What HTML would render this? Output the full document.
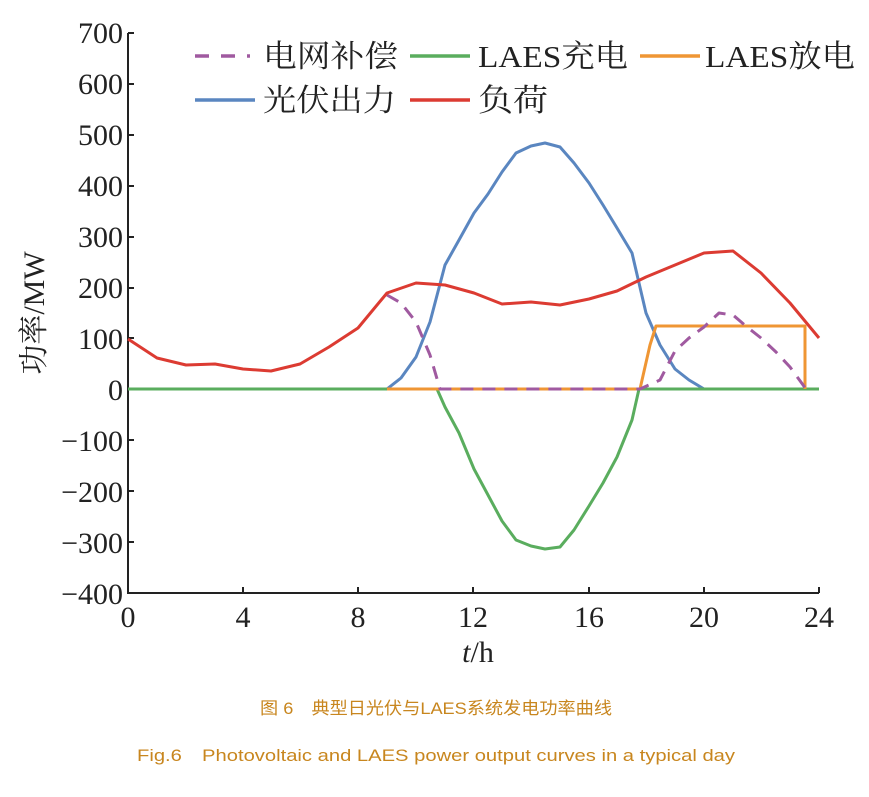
<!DOCTYPE html>
<html><head><meta charset="utf-8"><style>
html,body{margin:0;padding:0;background:#fff;width:869px;height:797px;overflow:hidden}
</style></head><body>
<svg width="869" height="797" xmlns="http://www.w3.org/2000/svg">
<g font-family="Liberation Serif, 'Noto Serif CJK SC', serif" font-size="30" fill="#222">
<g text-anchor="end">
<text x="123" y="43">700</text><text x="123" y="94">600</text><text x="123" y="145">500</text>
<text x="123" y="196">400</text><text x="123" y="247">300</text><text x="123" y="298">200</text>
<text x="123" y="349">100</text><text x="123" y="400">0</text><text x="123" y="451">−100</text>
<text x="123" y="502">−200</text><text x="123" y="553">−300</text><text x="123" y="604">−400</text>
</g>
<g text-anchor="middle">
<text x="128" y="627">0</text><text x="243" y="627">4</text><text x="358" y="627">8</text>
<text x="473" y="627">12</text><text x="589" y="627">16</text><text x="704" y="627">20</text><text x="819" y="627">24</text>
<text x="478" y="662"><tspan font-style="italic">t</tspan>/h</text>
</g>
<text transform="translate(44,313) rotate(-90)" text-anchor="middle" font-size="30">功率/MW</text>
</g>
<g stroke="#222" stroke-width="2" fill="none">
<path d="M128,33V593H819"/>
<path d="M128,33h6M128,84h6M128,135h6M128,186h6M128,237h6M128,288h6M128,338h6M128,389h6M128,440h6M128,491h6M128,542h6"/>
<path d="M243,593v-6M358,593v-6M473,593v-6M589,593v-6M704,593v-6M819,593v-6"/>
</g>
<g fill="none" stroke-width="3" stroke-linejoin="round">
<polyline stroke="#5a86c0" points="128,389 387,389 401,378 416,357 430,322 445,265 459,240 474,213 488,194 502,172 516,153 531,146 545,143 560,147 574,163 589,183 603,205 617,228 632,253 646,313 660,345 675,369 689,380 704,389 819,389"/>
<polyline stroke="#5aad5e" points="128,389 437,389 445,407 459,433 474,469 488,495 502,521 516,540 531,546 545,549 560,547 574,530 589,506 603,483 617,457 632,420 639,389 819,389"/>
<polyline stroke="#ef9634" points="387,389 640,389 650,345 656,326 805,326 805,389"/>
<polyline stroke="#a05aa0" stroke-dasharray="13,9" points="387,295 401,303 416,322 430,355 440,389 640,389 660,380 675,351 689,338 704,327 719,313 733,315 747,327 761,338 776,352 790,367 806,389"/>
<polyline stroke="#dc3b32" points="128,339 157,358 186,365 215,364 243,369 271,371 300,364 329,347 358,328 387,293 416,283 445,285 474,293 502,304 531,302 560,305 589,299 617,291 646,277 675,265 704,253 733,251 761,273 790,303 819,338"/>
</g>
<g stroke-width="3.5">
<line x1="195" y1="56" x2="250" y2="56" stroke="#a05aa0" stroke-dasharray="14,12"/>
<line x1="410" y1="56" x2="470" y2="56" stroke="#5aad5e"/>
<line x1="640" y1="56" x2="700" y2="56" stroke="#ef9634"/>
<line x1="195" y1="100" x2="255" y2="100" stroke="#5a86c0"/>
<line x1="410" y1="100" x2="470" y2="100" stroke="#dc3b32"/>
</g>
<g font-family="Liberation Serif, 'Noto Serif CJK SC', serif" font-size="31" fill="#222">
<text x="263" y="67" textLength="135" lengthAdjust="spacingAndGlyphs">电网补偿</text>
<text x="478" y="67" textLength="150" lengthAdjust="spacingAndGlyphs">LAES充电</text>
<text x="705" y="67" textLength="150" lengthAdjust="spacingAndGlyphs">LAES放电</text>
<text x="263" y="111" textLength="133" lengthAdjust="spacingAndGlyphs">光伏出力</text>
<text x="478" y="111" textLength="70" lengthAdjust="spacingAndGlyphs">负荷</text>
</g>
<g font-family="Liberation Sans, 'Noto Sans CJK SC', sans-serif" font-size="17" fill="#c8861e">
<text x="260" y="714" textLength="352" lengthAdjust="spacingAndGlyphs">图 6　典型日光伏与LAES系统发电功率曲线</text>
<text x="137" y="761" textLength="598" lengthAdjust="spacingAndGlyphs">Fig.6　Photovoltaic and LAES power output curves in a typical day</text>
</g>
</svg>
</body></html>
